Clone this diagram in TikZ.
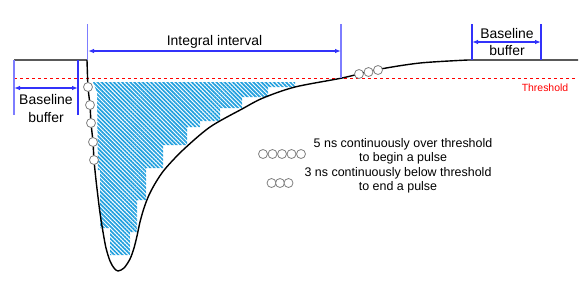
\documentclass[tikz,border=0pt]{standalone}
\usepackage{fontspec}
\setmainfont{Liberation Sans}
\usetikzlibrary{arrows.meta,patterns.meta}
\definecolor{hatchblue}{RGB}{35,160,222}
\definecolor{dimblue}{RGB}{50,50,250}
\definecolor{lightblue}{RGB}{125,125,255}
\definecolor{circgray}{RGB}{128,128,128}
\tikzset{
  signal/.style={line width=1.4bp, black, line join=round},
  guide/.style={line width=1.3bp, dimblue},
  guidelight/.style={line width=1.3bp, lightblue},
  dimarrow/.style={line width=1.1bp, dimblue, {Latex[length=6bp,width=4.5bp]}-{Latex[length=6bp,width=4.5bp]}},
  thresh/.style={red, line width=0.9bp, dash pattern=on 3bp off 3bp},
  samp/.style={circle, draw=circgray, fill=white, line width=0.8bp, minimum size=9bp, inner sep=0pt},
  lbl/.style={font=\fontsize{14}{17.5}\selectfont, align=center, inner sep=0pt},
  leg/.style={font=\fontsize{12.5}{14.5}\selectfont, align=center, inner sep=0pt},
}
\begin{document}
\begin{tikzpicture}[x=1bp,y=-1bp]
\useasboundingbox (0,0) rectangle (584,280);

% hatched integral area
\fill[pattern={Lines[angle=-45,distance=2.9bp,line width=1.7bp]}, pattern color=hatchblue]
  (93,82) -- (97,92) -- (98,170) -- (100,170) -- (100,228) -- (110,228) -- (110,255)
  -- (130,255) -- (130,232) -- (137,232) -- (137,200) -- (146,200) -- (146,168)
  -- (163,168) -- (163,145) -- (187,145) -- (187,127) -- (200,127) -- (200,121)
  -- (220,121) -- (220,108) -- (242,108) -- (242,97) -- (268,97) -- (268,87)
  -- (295,87) -- (295,82) -- cycle;

% threshold
\coordinate (thL) at (14,78);
\coordinate (thR) at (578,78);
\draw[thresh] (thL) -- (thR);
\node[font=\fontsize{10.5}{12}\selectfont, text=red, inner sep=0pt] (thlabel) at (545,88) {Threshold};

% signal
\draw[signal] (14,60) -- plot[smooth, tension=0.5] coordinates {
  (87,60) (88,87) (90,105) (91,123) (93,142) (94,160) (96,180) (98,197) (100,213)
  (103,232) (106,248) (110,261) (114,268) (118,271) (124,268) (130,259) (134,248)
  (137,236) (140,222) (144,208) (149,195) (156,182) (165,169) (183,150) (210,127)
  (242,109) (263,98) (295,87) (342,78) (378,69.5) (420,63) (468,60)} -- (578,60);

% sample circles on the leading edge
\node[samp] (c1) at (88,87) {};
\node[samp] (c2) at (90,105) {};
\node[samp] (c3) at (91,123) {};
\node[samp] (c4) at (93,142) {};
\node[samp] (c5) at (94,160) {};
% sample circles on the trailing edge
\node[samp] (t1) at (359,74) {};
\node[samp] (t2) at (368.5,72) {};
\node[samp] (t3) at (378,70) {};

% left baseline buffer
\coordinate (lbA) at (14,60);  \coordinate (lbAb) at (14,115);
\coordinate (lbB) at (78,60);  \coordinate (lbBb) at (78,115);
\draw[guidelight] (lbA) -- (lbAb);
\draw[guide] (lbB) -- (lbBb);
\coordinate (lbArL) at (14,88); \coordinate (lbArR) at (78,88);
\draw[dimarrow] (lbArL) -- (lbArR);
\node[lbl] (lbtext) at (46,108.5) {Baseline\\buffer};

% integral interval
\coordinate (iiA) at (87.5,24); \coordinate (iiAb) at (87.5,60);
\coordinate (iiB) at (341,24);  \coordinate (iiBb) at (341,78);
\draw[guidelight] (iiA) -- (iiAb);
\draw[guidelight] (iiB) -- (iiBb);
\coordinate (iiArL) at (88,51); \coordinate (iiArR) at (341,51);
\draw[dimarrow] (iiArL) -- (iiArR);
\node[lbl] (iitext) at (214.5,42) {Integral interval};

% right baseline buffer
\coordinate (rbA) at (472,24); \coordinate (rbAb) at (472,60);
\coordinate (rbB) at (541,24); \coordinate (rbBb) at (541,60);
\draw[guide] (rbA) -- (rbAb);
\draw[guide] (rbB) -- (rbBb);
\coordinate (rbArL) at (472,42); \coordinate (rbArR) at (541,42);
\draw[dimarrow] (rbArL) -- (rbArR);
\node[lbl] (rbtext) at (507,42) {Baseline\\buffer};

% legend
\node[samp] (g1) at (263,154) {};
\node[samp] (g2) at (272.5,154) {};
\node[samp] (g3) at (282,154) {};
\node[samp] (g4) at (291.5,154) {};
\node[samp] (g5) at (301,154) {};
\node[leg] (legA) at (403,151) {5 ns continuously over threshold\\to begin a pulse};

\node[samp] (h1) at (271.5,183) {};
\node[samp] (h2) at (280,183) {};
\node[samp] (h3) at (288.5,183) {};
\node[leg] (legB) at (398,180) {3 ns continuously below threshold\\to end a pulse};
\end{tikzpicture}
\end{document}
